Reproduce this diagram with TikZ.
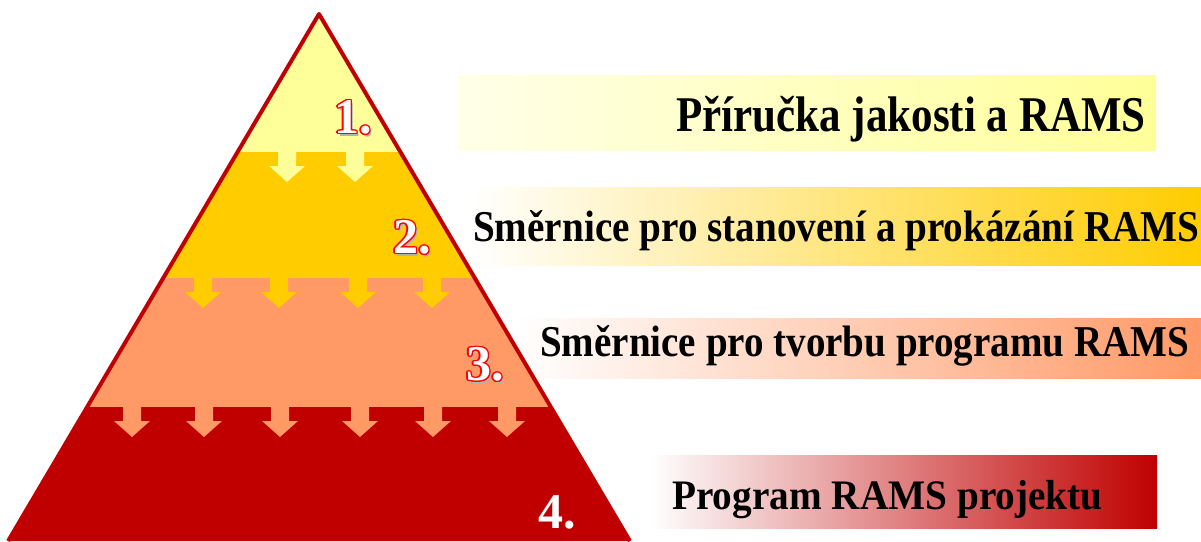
\documentclass[tikz,border=0pt]{standalone}
\usepackage{fontspec}
\setmainfont{Liberation Serif}
\usepackage[copies]{contour}
\contourlength{1.3pt}
\definecolor{lvA}{HTML}{FFFF99}
\definecolor{lvB}{HTML}{FFCC00}
\definecolor{lvC}{HTML}{FF9966}
\definecolor{lvD}{HTML}{C00000}
\definecolor{lvAlight}{HTML}{FFFFE8}
\newcommand{\stepnum}[1]{\contour{red}{\textcolor{white}{#1}}}
\tikzset{
  downarr/.pic={\fill (-9,0) -- (9,0) -- (9,14) -- (18,14) -- (0,30) -- (-18,14) -- (-9,14) -- cycle;},
  bartext/.style={font=\bfseries\fontsize{44}{44}\selectfont, text=black, inner sep=0pt, anchor=base west},
  numtext/.style={font=\bfseries\fontsize{50}{50}\selectfont, inner sep=0pt}
}
\begin{document}
\begin{tikzpicture}[x=1pt,y=-1pt]
\useasboundingbox (0,0) rectangle (1201,541);
% labelled bars (behind the pyramid)
\shade[left color=lvAlight, right color=lvA] (458,75) rectangle (1156,150);
\node[bartext, font=\bfseries\fontsize{50}{50}\selectfont] (t1) at (676,131) {\scalebox{0.86}[1]{Příručka jakosti a RAMS}};
\shade[left color=white, right color=lvB] (470,187) rectangle (1201,265);
\node[bartext] (t2) at (473,241) {\scalebox{0.89}[1]{Směrnice pro stanovení a prokázání RAMS}};
\shade[left color=white, right color=lvC] (515,318) rectangle (1201,378);
\node[bartext] (t3) at (540,356) {\scalebox{0.887}[1]{Směrnice pro tvorbu programu RAMS}};
\shade[left color=white, right color=lvD] (650,455) rectangle (1157,528);
\node[bartext, font=\bfseries\fontsize{42}{42}\selectfont] (t4) at (672,509) {\scalebox{0.935}[1]{Program RAMS projektu}};
% pyramid layers (apex at 319,14; half-width grows 0.588 per unit)
\fill[lvA] (319,14) -- (400.1,152) -- (237.9,152) -- cycle;
\fill[lvB] (237.9,152) -- (400.1,152) -- (474.2,278) -- (163.8,278) -- cycle;
\fill[lvC] (163.8,278) -- (474.2,278) -- (550.0,407) -- (88.0,407) -- cycle;
\fill[lvD] (88.0,407) -- (550.0,407) -- (629.9,541) -- (8.1,541) -- cycle;
% outline
\draw[lvD, line width=4pt, line join=round] (8.1,541) -- (319,14) -- (629.9,541);
% arrows from layer to layer
\foreach \x in {287,355} \pic[fill=lvA] at (\x,152) {downarr};
\foreach \x in {203,279,358,432} \pic[fill=lvB] at (\x,278) {downarr};
\foreach \x in {132,204,280,360,433,507} \pic[fill=lvC] at (\x,407) {downarr};
% level numbers
\node[numtext, text=gray!60] at (355,120) {1.};
\node[numtext] (n1) at (353,118) {\stepnum{1.}};
\node[numtext, text=gray!60] at (414,240) {2.};
\node[numtext] (n2) at (412,238) {\stepnum{2.}};
\node[numtext, text=gray!60] at (487,367) {3.};
\node[numtext] (n3) at (485,365) {\stepnum{3.}};
\node[numtext, text=white] (n4) at (557,512) {4.};
\end{tikzpicture}
\end{document}
